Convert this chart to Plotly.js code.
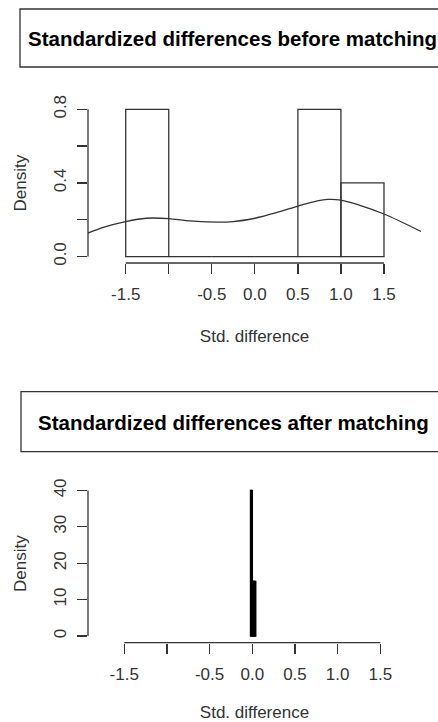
<!DOCTYPE html>
<html>
<head>
<meta charset="utf-8">
<script src="https://cdn.plot.ly/plotly-3.0.1.min.js"></script>
<style>html,body{margin:0;padding:0;background:#fff;}#chart{width:438px;height:722px;}</style>
</head>
<body>
<div id="chart"></div>
<script>
// ---- data ----
var beforeBinEdges = [-1.5, -1.0, -0.5, 0.0, 0.5, 1.0, 1.5];
var beforeDensity  = [0.8, 0, 0, 0, 0.8, 0.4];
var beforeKdeX = [-1.94, -1.75, -1.5, -1.26, -1.0, -0.8, -0.56, -0.25, 0.0, 0.25, 0.5, 0.67, 0.85, 1.0, 1.22, 1.5, 1.93];
var beforeKdeY = [0.127, 0.16, 0.19, 0.208, 0.206, 0.195, 0.188, 0.19, 0.208, 0.238, 0.274, 0.296, 0.31, 0.306, 0.278, 0.231, 0.136];
var afterBinEdges = [-0.02, -0.01, 0.0, 0.01, 0.02, 0.03, 0.04];
var afterDensity  = [40, 40, 15, 15, 15, 15];
var xTickVals = [-1.5, -1.0, -0.5, 0.0, 0.5, 1.0, 1.5];
var xTickText = ['-1.5', '', '-0.5', '0.0', '0.5', '1.0', '1.5'];
var yTickValsBefore = [0, 0.2, 0.4, 0.6, 0.8];
var yTickTextBefore = ['0.0', '', '0.4', '', '0.8'];
var yTickValsAfter = [0, 10, 20, 30, 40];
var yTickTextAfter = ['0', '10', '20', '30', '40'];
var titleBefore = 'Standardized differences before matching';
var titleAfter = 'Standardized differences after matching';

function mids(e){var r=[];for(var i=0;i<e.length-1;i++)r.push((e[i]+e[i+1])/2);return r;}
function widths(e){var r=[];for(var i=0;i<e.length-1;i++)r.push(e[i+1]-e[i]);return r;}

var INK = '#333';
var FONT = 'Liberation Sans, Arial, sans-serif';

var traces = [
  {type:'bar', x:mids(beforeBinEdges), y:beforeDensity, width:widths(beforeBinEdges),
   marker:{color:'rgba(0,0,0,0)', line:{color:INK, width:1.3}}, xaxis:'x', yaxis:'y', hoverinfo:'x+y'},
  {type:'scatter', mode:'lines', x:beforeKdeX, y:beforeKdeY, line:{color:INK, width:1.3, shape:'spline', smoothing:1},
   xaxis:'x', yaxis:'y'},
  {type:'bar', x:mids(afterBinEdges), y:afterDensity, width:widths(afterBinEdges),
   marker:{color:'rgba(0,0,0,0)', line:{color:'#000', width:1.5}}, xaxis:'x2', yaxis:'y2'}
];

function xax(domain, range, anchor){
  return {domain:domain, range:range, anchor:anchor, showgrid:false, zeroline:false, showline:false,
    ticks:'outside', ticklen:10, tickwidth:1.3, tickcolor:INK, tickvals:xTickVals, ticktext:xTickText,
    tickfont:{family:FONT, size:17, color:INK}, ticklabelstandoff:6,
    title:{text:'Std. difference', font:{family:FONT, size:17, color:INK}, standoff:26}};
}
function yax(domain, range, anchor, tv, tt){
  return {domain:domain, range:range, anchor:anchor, showgrid:false, zeroline:false, showline:false,
    ticks:'outside', ticklen:10, tickwidth:1.3, tickcolor:INK, tickvals:tv, ticktext:tt, tickangle:-90,
    tickfont:{family:FONT, size:17, color:INK}, ticklabelstandoff:4,
    title:{text:'Density', font:{family:FONT, size:17, color:INK}, standoff:20}};
}

var layout = {
  width:438, height:722, margin:{l:0, r:0, t:0, b:0}, paper_bgcolor:'#fff', plot_bgcolor:'#fff',
  showlegend:false,
  xaxis: xax([0.2009, 0.9612], [-1.938, 1.93], 'y'),
  yaxis: yax([0.6357, 0.8568], [-0.0353, 0.832], 'x', yTickValsBefore, yTickTextBefore),
  xaxis2: xax([0.2009, 0.9612], [-1.925, 1.977], 'y2'),
  yaxis2: yax([0.1098, 0.3288], [-1.84, 41.6], 'x2', yTickValsAfter, yTickTextAfter),
  shapes: [
    {type:'line', xref:'x', yref:'y domain', x0:-1.5, x1:1.5, y0:0, y1:0, line:{color:INK, width:1.3}},
    {type:'line', xref:'x domain', yref:'y', x0:0, x1:0, y0:0, y1:0.8, line:{color:INK, width:1.3}},
    {type:'line', xref:'x2', yref:'y2 domain', x0:-1.5, x1:1.5, y0:0, y1:0, line:{color:INK, width:1.3}},
    {type:'line', xref:'x2 domain', yref:'y2', x0:0, x1:0, y0:0, y1:40, line:{color:INK, width:1.3}},
    {type:'rect', xref:'paper', yref:'paper', x0:20/438, x1:1.2, y0:(722-67)/722, y1:(722-9)/722, line:{color:INK, width:1.3}},
    {type:'rect', xref:'paper', yref:'paper', x0:21/438, x1:1.2, y0:(722-451.7)/722, y1:(722-391.7)/722, line:{color:INK, width:1.3}}
  ],
  annotations: [
    {text:'<b>'+titleBefore+'</b>', xref:'paper', yref:'paper', x:232/438, y:(722-38)/722, xanchor:'center', yanchor:'middle',
     showarrow:false, font:{family:FONT, size:20.5, color:'#000'}},
    {text:'<b>'+titleAfter+'</b>', xref:'paper', yref:'paper', x:233.7/438, y:(722-422)/722, xanchor:'center', yanchor:'middle',
     showarrow:false, font:{family:FONT, size:20.5, color:'#000'}}
  ]
};

Plotly.newPlot('chart', traces, layout, {displayModeBar:false, staticPlot:true});
</script>
</body>
</html>
